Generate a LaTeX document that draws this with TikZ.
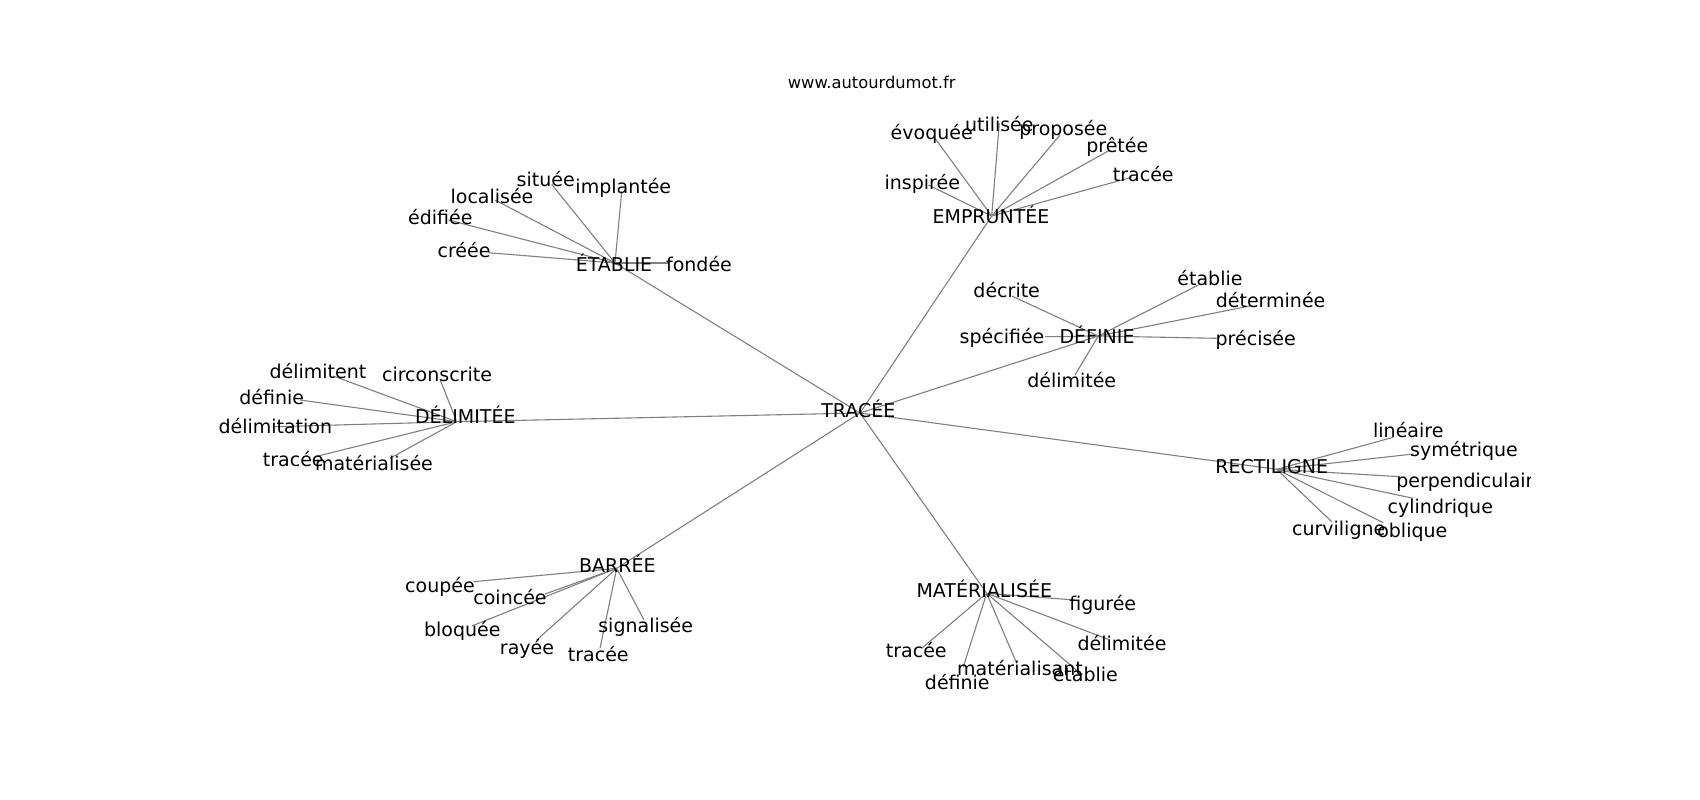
\documentclass[tikz,border=0pt]{standalone}
\usepackage{fontspec}
\setmainfont{DejaVu Sans}
\begin{document}
\begin{tikzpicture}[x=1pt,y=-1pt,
  edge/.style={draw=gray,line width=1.1pt},
  lab/.style={inner sep=0pt,text height=0.76em,text depth=0.24em,anchor=center,yshift=-4.5pt,font=\fontsize{19}{19}\selectfont,text=black},
  ttl/.style={inner sep=0pt,anchor=center,font=\fontsize{16.3}{16.3}\selectfont,text=black}]
\useasboundingbox[fill=white] (0,0) rectangle (1700,800);
\node[ttl] (title) at (871.7,82) {www.autourdumot.fr};
\begin{scope}
\clip (212.5,96) rectangle (1530,712);
% hub points
\coordinate (T) at (860,413);
\coordinate (ET) at (615,263);
\coordinate (EM) at (991.7,216);
\coordinate (DL) at (456.7,421.7);
\coordinate (DF) at (1098.3,336);
\coordinate (RE) at (1276.7,469.3);
\coordinate (BA) at (616.7,568.3);
\coordinate (MA) at (986.7,593.3);
% leaf points
\coordinate (et1p) at (551.7,184.3);
\coordinate (et2p) at (621.7,191.7);
\coordinate (et3p) at (495,200);
\coordinate (et4p) at (448.3,220);
\coordinate (et5p) at (488.3,252.7);
\coordinate (et6p) at (668,263);
\coordinate (em1p) at (935,138.3);
\coordinate (em2p) at (999.3,123.3);
\coordinate (em3p) at (1060,135);
\coordinate (em4p) at (1110,150);
\coordinate (em5p) at (1131.7,177.3);
\coordinate (em6p) at (928.3,185);
\coordinate (dl1p) at (333.3,376);
\coordinate (dl2p) at (440,379.3);
\coordinate (dl3p) at (300,400);
\coordinate (dl4p) at (275,426.7);
\coordinate (dl5p) at (315,456.7);
\coordinate (dl6p) at (390,458.3);
\coordinate (df1p) at (1011.7,296);
\coordinate (df2p) at (1198.3,285);
\coordinate (df3p) at (1250,306);
\coordinate (df4p) at (1045,336.7);
\coordinate (df5p) at (1216.7,338.3);
\coordinate (df6p) at (1075,375);
\coordinate (re1p) at (1393.3,437.3);
\coordinate (re2p) at (1413.3,454);
\coordinate (re3p) at (1400,476.7);
\coordinate (re4p) at (1413.3,498.3);
\coordinate (re5p) at (1331.7,521.7);
\coordinate (re6p) at (1383.3,522.7);
\coordinate (ba1p) at (473.3,581.7);
\coordinate (ba2p) at (545,594);
\coordinate (ba3p) at (471.7,626);
\coordinate (ba4p) at (536.7,640);
\coordinate (ba5p) at (600,648.3);
\coordinate (ba6p) at (644,620);
\coordinate (ma1p) at (1075,600);
\coordinate (ma2p) at (1110,640);
\coordinate (ma3p) at (921.7,648.3);
\coordinate (ma4p) at (963.3,666.7);
\coordinate (ma5p) at (1016.7,663.3);
\coordinate (ma6p) at (1080,673.3);
% connectors
\foreach \h in {ET,EM,DL,DF,RE,BA,MA} \draw[edge] (T) -- (\h);
\foreach \i in {1,...,6} {
  \draw[edge] (ET) -- (et\i p);
  \draw[edge] (EM) -- (em\i p);
  \draw[edge] (DL) -- (dl\i p);
  \draw[edge] (DF) -- (df\i p);
  \draw[edge] (RE) -- (re\i p);
  \draw[edge] (BA) -- (ba\i p);
  \draw[edge] (MA) -- (ma\i p);
}
% hub labels
\node[lab] (Tl) at (858.3,410) {TRACÉE};
\node[lab] (ETl) at (614,264) {ÉTABLIE};
\node[lab] (EMl) at (991,216.7) {EMPRUNTÉE};
\node[lab] (DLl) at (465.3,416.7) {DÉLIMITÉE};
\node[lab] (DFl) at (1097,336.7) {DÉFINIE};
\node[lab] (REl) at (1271.7,466.7) {RECTILIGNE};
\node[lab] (BAl) at (617.3,565.7) {BARRÉE};
\node[lab] (MAl) at (984.3,590.3) {MATÉRIALISÉE};
% leaf labels
\node[lab] (et1) at (545.7,179) {située};
\node[lab] (et2) at (623.3,186.7) {implantée};
\node[lab] (et3) at (492,196) {localisée};
\node[lab] (et4) at (440.3,217.3) {édifiée};
\node[lab] (et5) at (464,250) {créée};
\node[lab] (et6) at (699,264) {fondée};
\node[lab] (em1) at (931.7,132.7) {évoquée};
\node[lab] (em2) at (999.3,124) {utilisée};
\node[lab] (em3) at (1063.3,128.7) {proposée};
\node[lab] (em4) at (1117.3,145) {prêtée};
\node[lab] (em5) at (1143.3,174) {tracée};
\node[lab] (em6) at (922.3,182.7) {inspirée};
\node[lab] (dl1) at (318,371.7) {délimitent};
\node[lab] (dl2) at (437,374) {circonscrite};
\node[lab] (dl3) at (271.7,397.3) {définie};
\node[lab] (dl4) at (275.3,426.7) {délimitation};
\node[lab] (dl5) at (293.3,459.3) {tracée};
\node[lab] (dl6) at (374,463.3) {matérialisée};
\node[lab] (df1) at (1006.7,290.7) {décrite};
\node[lab] (df2) at (1210,278.3) {établie};
\node[lab] (df3) at (1270.6,300.3) {déterminée};
\node[lab] (df4) at (1002,336) {spécifiée};
\node[lab] (df5) at (1255.7,338) {précisée};
\node[lab] (df6) at (1071.7,380) {délimitée};
\node[lab] (re1) at (1408.3,430.7) {linéaire};
\node[lab] (re2) at (1464,449) {symétrique};
\node[lab] (re3) at (1470.5,480.7) {perpendiculaire};
\node[lab] (re4) at (1440.3,506) {cylindrique};
\node[lab] (re5) at (1338.7,528.3) {curviligne};
\node[lab] (re6) at (1412.3,530.7) {oblique};
\node[lab] (ba1) at (440,585.7) {coupée};
\node[lab] (ba2) at (510,597.3) {coincée};
\node[lab] (ba3) at (462.3,629.3) {bloquée};
\node[lab] (ba4) at (527,647.3) {rayée};
\node[lab] (ba5) at (598.3,654) {tracée};
\node[lab] (ba6) at (645.7,625) {signalisée};
\node[lab] (ma1) at (1102.7,603.3) {figurée};
\node[lab] (ma2) at (1122,643.7) {délimitée};
\node[lab] (ma3) at (916.3,650.7) {tracée};
\node[lab] (ma4) at (957.3,682) {définie};
\node[lab] (ma5) at (1020,668.3) {matérialisant};
\node[lab] (ma6) at (1085.3,674) {établie};
\end{scope}
\end{tikzpicture}
\end{document}
